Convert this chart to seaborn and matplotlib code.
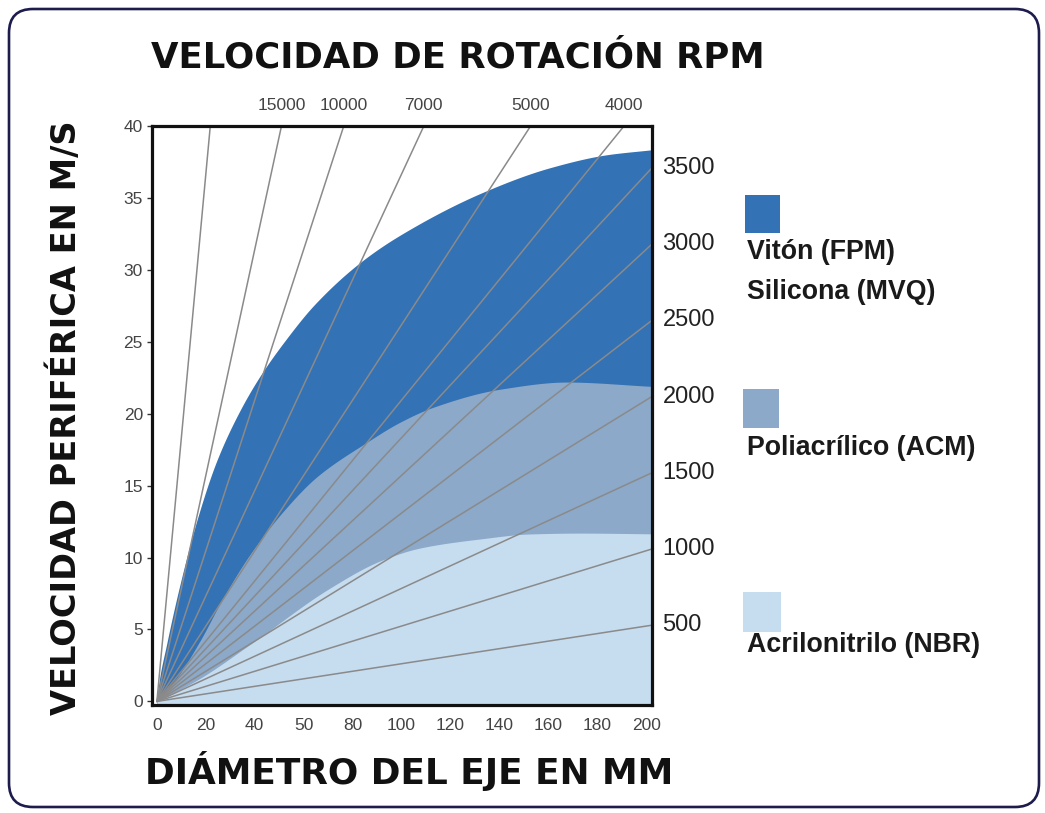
import numpy as np
import pandas as pd
import matplotlib
matplotlib.use("Agg")
import matplotlib.pyplot as plt
import matplotlib.transforms as mtransforms
from matplotlib.patches import FancyBboxPatch, Rectangle
import seaborn as sns

# ---------------- data ----------------
x_ticks = [0, 20, 40, 60, 80, 100, 120, 140, 160, 180, 200]
x_tick_labels = ["0", "20", "40", "50", "80", "100", "120", "140", "160", "180", "200"]
y_ticks = [0, 5, 10, 15, 20, 25, 30, 35, 40]

rpm_lines = [35000, 15000, 10000, 7000, 5000, 4000, 3500, 3000, 2500, 2000, 1500, 1000, 500]
top_rpm_labels = [15000, 10000, 7000, 5000, 4000]
right_rpm_labels = [3500, 3000, 2500, 2000, 1500, 1000, 500]

fpm_d = [0, 0.5, 4.0, 9.4, 16.2, 24.4, 33.9, 42.1, 51.6, 64.5, 83.0, 99.3, 133.4, 160.7, 183.9, 202.4]
fpm_v = [0, 0.9, 4.0, 8.1, 12.5, 16.7, 20.2, 22.6, 24.9, 27.6, 30.5, 32.4, 35.4, 37.1, 38.0, 38.35]

acm_d = [0, 8.0, 17.6, 27.1, 38.0, 51.6, 65.3, 85.7, 99.3, 113.0, 140.2, 167.5, 202.4]
acm_v = [0, 1.6, 4.2, 7.2, 10.2, 13.2, 15.6, 18.0, 19.4, 20.45, 21.7, 22.2, 21.9]

nbr_d = [0, 17.6, 38.0, 70.7, 91.2, 107.5, 132.0, 152.5, 172.9, 202.4]
nbr_v = [0, 1.6, 3.95, 7.87, 9.76, 10.66, 11.29, 11.64, 11.7, 11.65]

colors = ["#3372B5", "#8CA9C9", "#C6DCEF"]

X_MIN, X_MAX = -2.0, 202.4
Y_MIN, Y_MAX = -0.25, 40.0


def smooth_path(x, y, n=400):
    """Monotone cubic (PCHIP) rendering of the read points, for a smooth outline."""
    x = np.asarray(x, float)
    y = np.asarray(y, float)
    h = np.diff(x)
    delta = np.diff(y) / h
    m = np.zeros_like(y)
    m[0], m[-1] = delta[0], delta[-1]
    for k in range(1, len(x) - 1):
        if delta[k - 1] * delta[k] <= 0:
            m[k] = 0.0
        else:
            w1 = 2 * h[k] + h[k - 1]
            w2 = h[k] + 2 * h[k - 1]
            m[k] = (w1 + w2) / (w1 / delta[k - 1] + w2 / delta[k])
    xs = np.linspace(x[0], x[-1], n)
    idx = np.clip(np.searchsorted(x, xs) - 1, 0, len(x) - 2)
    t = (xs - x[idx]) / h[idx]
    h00 = 2 * t**3 - 3 * t**2 + 1
    h10 = t**3 - 2 * t**2 + t
    h01 = -2 * t**3 + 3 * t**2
    h11 = t**3 - t**2
    ys = h00 * y[idx] + h10 * h[idx] * m[idx] + h01 * y[idx + 1] + h11 * h[idx] * m[idx + 1]
    return xs, ys


# ---------------- figure ----------------
sns.set_theme(style="white")
plt.rcParams["font.family"] = ["Liberation Sans", "DejaVu Sans"]

W, H = 1045, 813
fig = plt.figure(figsize=(W / 100, H / 100), dpi=100)
fig.patch.set_facecolor("white")


def fx(px):
    return px / W


def fy(py):
    return 1 - py / H


ax = fig.add_axes([fx(152), fy(705), fx(652) - fx(152), fy(126) - fy(705)])
ax.set_facecolor("white")

# filled regions
for (dd, vv), c, z in zip([(fpm_d, fpm_v), (acm_d, acm_v), (nbr_d, nbr_v)], colors, [1, 1.1, 1.2]):
    xs, ys = smooth_path(dd, vv)
    ax.fill_between(xs, Y_MIN, ys, color=c, lw=0, zorder=z)

# radial constant-rpm lines: v = pi * d * n / 60000
rows = []
for n in rpm_lines:
    k = np.pi * n / 60000.0
    d_end = min(X_MAX, Y_MAX / k)
    rows.append({"rpm": n, "d": 0.0, "v": 0.0})
    rows.append({"rpm": n, "d": d_end, "v": k * d_end})
lines_df = pd.DataFrame(rows)
sns.lineplot(data=lines_df, x="d", y="v", units="rpm", estimator=None, sort=False,
             color="#8a8a8a", lw=1.1, ax=ax, legend=False, zorder=2)

ax.set_xlim(X_MIN, X_MAX)
ax.set_ylim(Y_MIN, Y_MAX)
ax.set_xticks(x_ticks)
ax.set_xticklabels(x_tick_labels)
ax.set_yticks(y_ticks)
ax.set_xlabel("")
ax.set_ylabel("")
ax.tick_params(axis="x", length=0, pad=9, labelsize=12.5, labelcolor="#444444")
ax.tick_params(axis="y", left=True, length=3.5, width=1, color="#333333", pad=3,
               labelsize=12.5, labelcolor="#444444")
for s in ax.spines.values():
    s.set_visible(True)
    s.set_color("#111111")
    s.set_linewidth(2.3)
    s.set_zorder(5)

# top rpm labels
top_pos = [Y_MAX * 60000.0 / (np.pi * n) for n in top_rpm_labels]
secx = ax.secondary_xaxis("top")
secx.set_xticks(top_pos)
secx.set_xticklabels([str(n) for n in top_rpm_labels])
secx.tick_params(axis="x", length=0, pad=9, labelsize=12.5, labelcolor="#444444")
secx.spines["top"].set_visible(False)

# right rpm labels at the line ends
trans = mtransforms.blended_transform_factory(ax.transAxes, ax.transData)
for n in right_rpm_labels:
    v_end = np.pi * X_MAX * n / 60000.0
    ax.text(1.021, v_end, str(n), transform=trans, ha="left", va="center",
            fontsize=17, color="#222222")

# titles
bold_font = ["DejaVu Sans"]
fig.text(fx(458), fy(58), "VELOCIDAD DE ROTACIÓN RPM", ha="center", va="center",
         fontsize=25.6, fontweight="bold", family=bold_font, color="#111111")
fig.text(fx(409), fy(771), "DIÁMETRO DEL EJE EN MM", ha="center", va="center",
         fontsize=25.8, fontweight="bold", family=bold_font, color="#111111")
fig.text(fx(66), fy(418), "VELOCIDAD PERIFÉRICA EN M/S", ha="center", va="center",
         rotation=90, fontsize=24.2, fontweight="bold", family=bold_font, color="#111111")

# legend
squares = [(745, 195, 780, 233), (743, 389, 779, 428), (743, 592, 781, 632)]
for (x0, y0, x1, y1), c in zip(squares, colors):
    fig.add_artist(Rectangle((fx(x0), fy(y1)), fx(x1) - fx(x0), fy(y0) - fy(y1),
                             transform=fig.transFigure, facecolor=c, edgecolor="none"))
label_rows = [(252, "Vitón (FPM)"), (292, "Silicona (MVQ)"),
              (448, "Poliacrílico (ACM)"), (645, "Acrilonitrilo (NBR)")]
for py, txt in label_rows:
    fig.text(fx(747), fy(py), txt, ha="left", va="center", fontsize=19.3,
             fontweight="bold", color="#1a1a1a")

# outer rounded border
border = FancyBboxPatch((9, 6), 1030, 798, boxstyle="round,pad=0,rounding_size=24",
                        transform=None, facecolor="none", edgecolor="#1d1c4d", lw=1.9)
fig.add_artist(border)

fig.savefig("out.png", dpi=100)
